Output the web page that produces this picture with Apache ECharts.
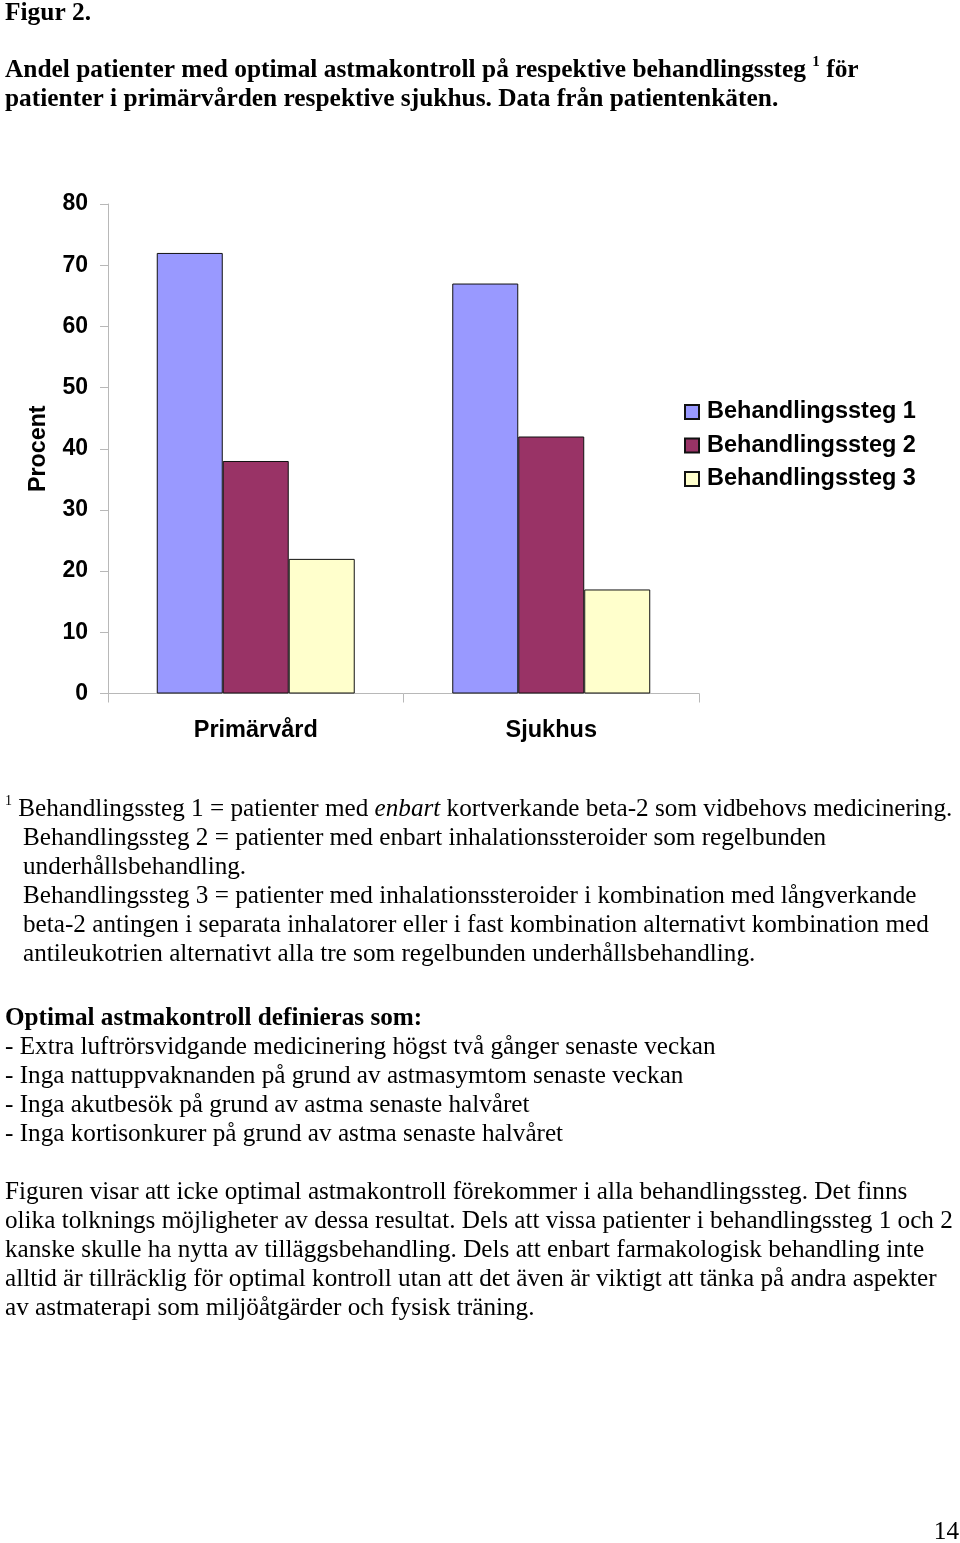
<!DOCTYPE html>
<html>
<head>
<meta charset="utf-8">
<script src="https://cdn.jsdelivr.net/npm/echarts@6/dist/echarts.min.js"></script>
<style>
html,body{margin:0;padding:0;background:#fff;}
#chart{width:960px;height:1543px;}
</style>
</head>
<body>
<div id="chart"></div>
<script>
// ---- Data ----
var categories = ['Primärvård', 'Sjukhus'];
var seriesNames = ['Behandlingssteg 1', 'Behandlingssteg 2', 'Behandlingssteg 3'];
var steg1 = [72, 67];
var steg2 = [38, 42];
var steg3 = [22, 17];
var yTicks = [0, 10, 20, 30, 40, 50, 60, 70, 80];
var colors = ['#9999FF', '#993366', '#FFFFCC'];

var figLabel = 'Figur 2.';
var titleLine1a = 'Andel patienter med optimal astmakontroll på respektive behandlingssteg ';
var titleLine1b = ' för';
var titleLine2 = 'patienter i primärvården respektive sjukhus. Data från patientenkäten.';
var footLine1 = ['Behandlingssteg 1 = patienter med ', 'enbart', ' kortverkande beta-2 som vidbehovs medicinering.'];
var footLines = [
  'Behandlingssteg 2 = patienter med enbart inhalationssteroider som regelbunden',
  'underhållsbehandling.',
  'Behandlingssteg 3 = patienter med inhalationssteroider i kombination med långverkande',
  'beta-2 antingen i separata inhalatorer eller i fast kombination alternativt kombination med',
  'antileukotrien alternativt alla tre som regelbunden underhållsbehandling.'
];
var defHeading = 'Optimal astmakontroll definieras som:';
var defLines = [
  '- Extra luftrörsvidgande medicinering högst två gånger senaste veckan',
  '- Inga nattuppvaknanden på grund av astmasymtom senaste veckan',
  '- Inga akutbesök på grund av astma senaste halvåret',
  '- Inga kortisonkurer på grund av astma senaste halvåret'
];
var paraLines = [
  'Figuren visar att icke optimal astmakontroll förekommer i alla behandlingssteg. Det finns',
  'olika tolknings möjligheter av dessa resultat. Dels att vissa patienter i behandlingssteg 1 och 2',
  'kanske skulle ha nytta av tilläggsbehandling. Dels att enbart farmakologisk behandling inte',
  'alltid är tillräcklig för optimal kontroll utan att det även är viktigt att tänka på andra aspekter',
  'av astmaterapi som miljöåtgärder och fysisk träning.'
];
var pageNumber = '14';

// ---- Chart ----
var serif = '"Liberation Serif", "Times New Roman", serif';
var sans = '"Liberation Sans", Arial, sans-serif';
var bodySize = 25.2;
var titleSize = 25.4;
var chartFont = 23.5;

function txt(x, y, text, opts) {
  opts = opts || {};
  return {
    type: 'text', x: x, y: y, silent: true,
    style: Object.assign({
      text: text,
      fontFamily: serif,
      fontSize: bodySize,
      fontWeight: 'normal',
      fill: '#000',
      verticalAlign: 'middle',
      align: 'left'
    }, opts)
  };
}

var graphics = [];
graphics.push(txt(5, 13, figLabel, {fontWeight: 'bold', fontSize: titleSize}));
graphics.push({
  type: 'text', x: 5, y: 70, silent: true,
  style: {
    text: '{t|' + titleLine1a + '}{s|1}{t|' + titleLine1b + '}',
    verticalAlign: 'middle',
    fill: '#000',
    rich: {
      t: {fontFamily: serif, fontSize: titleSize, fontWeight: 'bold', lineHeight: 30},
      s: {fontFamily: serif, fontSize: 15, fontWeight: 'bold', lineHeight: 30, verticalAlign: 'top'}
    }
  }
});
graphics.push(txt(5, 99, titleLine2, {fontWeight: 'bold', fontSize: titleSize}));

graphics.push({
  type: 'text', x: 5, y: 809, silent: true,
  style: {
    text: '{s|1}{t| ' + footLine1[0] + '}{i|' + footLine1[1] + '}{t|' + footLine1[2] + '}',
    verticalAlign: 'middle',
    fill: '#000',
    rich: {
      t: {fontFamily: serif, fontSize: bodySize, lineHeight: 30},
      i: {fontFamily: serif, fontSize: bodySize, fontStyle: 'italic', lineHeight: 30},
      s: {fontFamily: serif, fontSize: 14, lineHeight: 30, verticalAlign: 'top'}
    }
  }
});
footLines.forEach(function (l, i) {
  graphics.push(txt(23, 838 + i * 29, l));
});
graphics.push(txt(5, 1018, defHeading, {fontWeight: 'bold'}));
defLines.forEach(function (l, i) {
  graphics.push(txt(5, 1047 + i * 29, l));
});
paraLines.forEach(function (l, i) {
  graphics.push(txt(5, 1192 + i * 29, l));
});
graphics.push(txt(959, 1532, pageNumber, {align: 'right'}));

var chart = echarts.init(document.getElementById('chart'), null, {renderer: 'canvas'});

var dataSets = [steg1, steg2, steg3];
var series = seriesNames.map(function (n, i) {
  return {
    name: n,
    type: 'bar',
    data: dataSets[i],
    barGap: '0%',
    barCategoryGap: '33%',
    itemStyle: {color: colors[i], borderColor: '#111', borderWidth: 1},
    emphasis: {disabled: true},
    animation: false
  };
});

chart.setOption({
  animation: false,
  backgroundColor: '#fff',
  grid: {left: 108, right: 261, top: 204, bottom: 849.5, containLabel: false},
  legend: {
    orient: 'vertical',
    left: 679,
    top: 395,
    itemWidth: 14,
    itemHeight: 14,
    itemGap: 9.5,
    icon: 'rect',
    selectedMode: false,
    textStyle: {fontFamily: sans, fontWeight: 'bold', fontSize: chartFont, color: '#000', padding: [0, 0, 0, 3]},
    data: seriesNames
  },
  xAxis: {
    type: 'category',
    data: categories,
    axisLine: {show: true, lineStyle: {color: '#b8b8b8', width: 1}},
    axisTick: {show: true, length: 9, lineStyle: {color: '#b8b8b8'}},
    axisLabel: {fontFamily: sans, fontWeight: 'bold', fontSize: chartFont, color: '#000', margin: 25}
  },
  yAxis: {
    type: 'value',
    min: 0,
    max: 80,
    interval: 10,
    name: 'Procent',
    nameLocation: 'middle',
    nameGap: 58,
    nameRotate: 90,
    nameTextStyle: {fontFamily: sans, fontWeight: 'bold', fontSize: 23.3, color: '#000'},
    axisLine: {show: true, lineStyle: {color: '#b8b8b8', width: 1}},
    axisTick: {show: true, length: 8, lineStyle: {color: '#b8b8b8'}},
    splitLine: {show: false},
    axisLabel: {
      fontFamily: sans, fontWeight: 'bold', fontSize: 23, color: '#000', margin: 20,
      formatter: function (v) { return yTicks.indexOf(v) >= 0 ? String(v) : ''; }
    }
  },
  series: series,
  graphic: graphics
});
</script>
</body>
</html>
